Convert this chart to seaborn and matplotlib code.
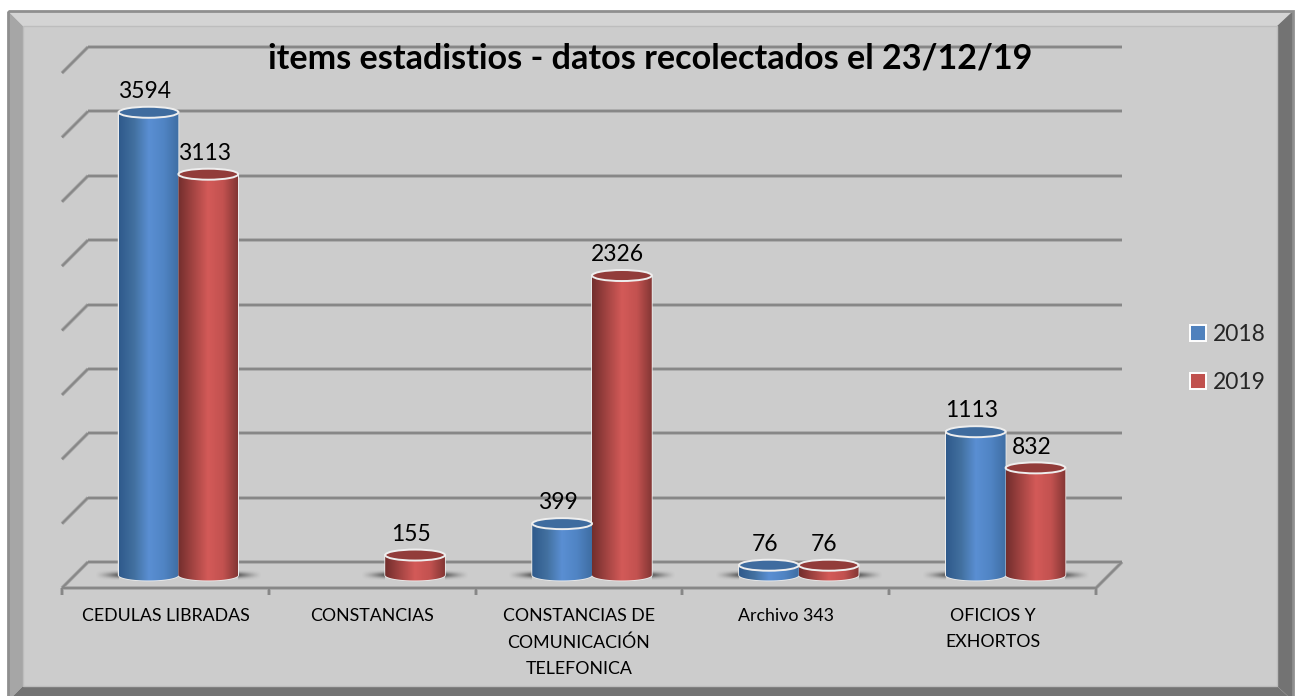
import numpy as np
import pandas as pd
import seaborn as sns
import matplotlib
matplotlib.use('Agg')
import matplotlib.pyplot as plt
from matplotlib.colors import LinearSegmentedColormap
from matplotlib.patches import Ellipse, Polygon, Patch
from matplotlib.path import Path
from matplotlib.transforms import ScaledTranslation

categories = ['CEDULAS LIBRADAS', 'CONSTANCIAS', 'CONSTANCIAS DE\nCOMUNICACIÓN\nTELEFONICA',
              'Archivo 343', 'OFICIOS Y\nEXHORTOS']
values_2018 = [3594, np.nan, 399, 76, 1113]
values_2019 = [3113, 155, 2326, 76, 832]
years = ['2018', '2019']
y_ticks = [0, 500, 1000, 1500, 2000, 2500, 3000, 3500, 4000]
title = 'items estadistios - datos recolectados el 23/12/19'

sns.set_style('white')
plt.rcParams['font.family'] = ['Lato', 'DejaVu Sans']

W, H = 1300, 696
fig = plt.figure(figsize=(W / 100, H / 100), dpi=100, facecolor='white')

# frame with bevel, in pixel coordinates
bg = fig.add_axes([0, 0, 1, 1])
bg.set_xlim(0, W)
bg.set_ylim(H, 0)
bg.axis('off')
ox0, oy0, ox1, oy1 = 8, 11, 1293, 701
ix0, iy0, ix1, iy1 = 23, 26, 1277, 686
bg.add_patch(Polygon([(ox0, oy0), (ox1, oy0), (ix1, iy0), (ix0, iy0)], fc='#d4d4d4', ec='none'))
bg.add_patch(Polygon([(ox0, oy0), (ix0, iy0), (ix0, iy1), (ox0, oy1)], fc='#a6a6a6', ec='none'))
bg.add_patch(Polygon([(ox1, oy0), (ix1, iy0), (ix1, iy1), (ox1, oy1)], fc='#737373', ec='none'))
bg.add_patch(Polygon([(ox0, oy1), (ix0, iy1), (ix1, iy1), (ox1, oy1)], fc='#737373', ec='none'))
bg.add_patch(Polygon([(ix0, iy0), (ix1, iy0), (ix1, iy1), (ix0, iy1)], fc='#cccccc', ec='#bdbdbd', lw=1))
bg.add_patch(Polygon([(ox0, oy0), (ox1, oy0), (ox1, oy1), (ox0, oy1)], fc='none', ec='#8f8f8f', lw=2))

# main axes: mid depth of the floor
ax_x0, ax_x1, ax_base, ax_top = 75, 1109, 575, 60
ax = fig.add_axes([ax_x0 / W, 1 - ax_base / H, (ax_x1 - ax_x0) / W, (ax_base - ax_top) / H])
ax.patch.set_alpha(0)

df = pd.DataFrame({
    'categoria': categories * 2,
    'valor': values_2018 + values_2019,
    'anio': [years[0]] * 5 + [years[1]] * 5,
})
sns.barplot(data=df, x='categoria', y='valor', hue='anio', hue_order=years,
            palette=['#4f81bd', '#c0504d'], width=0.578, gap=0, dodge=True,
            legend=False, zorder=3, ax=ax, linewidth=0)
ax.set_xlim(-0.5, 4.5)
ax.set_ylim(0, 4000)

px_x = 5 / (ax_x1 - ax_x0)     # data units in one pixel
px_y = 4000 / (ax_base - ax_top)
dx = 13 * px_x                 # half of the floor depth
dy = 13 * px_y

def line(xs, ys, z=1):
    ax.plot(xs, ys, color='#a6a6a6', lw=2.6, zorder=z, clip_on=False, solid_capstyle='butt')
    ax.plot(xs, ys, color='#878787', lw=1.4, zorder=z + 0.1, clip_on=False, solid_capstyle='butt')

left = -0.5
right = 4.5
for v in y_ticks:
    line([left + dx, right + dx], [v + dy, v + dy])
    line([left + dx, left - dx], [v + dy, v - dy])
line([right + dx, right - dx], [dy, -dy])
line([left - dx, right - dx], [-dy, -dy])
for i in range(len(categories) + 1):
    line([i - 0.5 - dx, i - 0.5 - dx], [-dy, -dy - 7 * px_y])

gradients = [
    LinearSegmentedColormap.from_list('azul', ['#2f5a8c', '#42709f', '#5a8fd3', '#5084c4', '#3f6ea3']),
    LinearSegmentedColormap.from_list('rojo', ['#722e2d', '#a34442', '#d35a58', '#c35250', '#833634']),
]
top_colors = ['#3f6c9f', '#923c3a']
ramp = np.linspace(0, 1, 256).reshape(1, -1)
ry = 5.5 * px_y
spans = {}

for container, cmap, top_color in zip(ax.containers, gradients, top_colors):
    for bar in container:
        h = bar.get_height()
        if np.isnan(h):
            continue
        x0, w = bar.get_x(), bar.get_width()
        xc = x0 + w / 2
        key = round(xc)
        if key in spans:
            spans[key] = (min(spans[key][0], x0), max(spans[key][1], x0 + w))
        else:
            spans[key] = (x0, x0 + w)

        # cylinder body with rounded bottom
        t = np.linspace(np.pi, 2 * np.pi, 60)
        pts = np.column_stack([xc + w / 2 * np.cos(t), ry * np.sin(t)])
        pts = np.vstack([pts, [x0 + w, h], [x0, h], pts[0]])
        outline = Polygon(pts, closed=True, fc='none', ec='#ececec', lw=1.2, zorder=3.2, clip_on=False)
        ax.add_patch(outline)
        im = ax.imshow(ramp, cmap=cmap, extent=(x0, x0 + w, -ry, h), aspect='auto', zorder=3.4)
        im.set_clip_box(fig.bbox)
        im.set_clip_path(Path(pts), ax.transData)

        # cylinder top
        ax.add_patch(Ellipse((xc, h), w, 2 * ry, fc=top_color, ec='#eeeeee', lw=1.4,
                             zorder=3.6, clip_on=False))
        ax.annotate(f'{int(h)}', (xc, h), xytext=(-3, 15), textcoords='offset points',
                    ha='center', va='center', fontsize=16.5, color='black', zorder=5)

# floor shadow on the outer sides of each group of bars, fades out sideways
side = 24 * px_x
prof = np.exp(-np.linspace(-1.7, 1.7, 24) ** 2)
ramp_in = np.linspace(0, 1, 48) ** 1.3
for x_from, x_to in spans.values():
    for fade, ext in [(ramp_in, (x_from - side, x_from)), (ramp_in[::-1], (x_to, x_to + side))]:
        rgba = np.zeros((24, 48, 4))
        rgba[..., 3] = 0.55 * np.outer(prof, fade)
        ax.imshow(rgba, extent=(ext[0], ext[1], -5 * px_y, 5 * px_y), aspect='auto',
                  zorder=2, clip_on=False, interpolation='bilinear')

ax.set_xlim(-0.5, 4.5)
ax.set_ylim(0, 4000)

ax.set_xlabel('')
ax.set_ylabel('')
ax.set_yticks([])
ax.set_xticks(range(len(categories)))
ax.set_xticklabels(categories, fontsize=12.8, color='black', linespacing=1.75)
ax.tick_params(axis='x', length=0, pad=24)
shift = ScaledTranslation(-13 / 100, 0, fig.dpi_scale_trans)
for lab in ax.get_xticklabels():
    lab.set_transform(lab.get_transform() + shift)
sns.despine(ax=ax, left=True, bottom=True)

ax.set_title(title, x=(650 - ax_x0) / (ax_x1 - ax_x0), y=0.987, fontsize=24.6,
             fontweight='bold', color='black', zorder=6, va='center')

handles = [Patch(fc='#4f81bd', ec='white', lw=1.4), Patch(fc='#c0504d', ec='white', lw=1.4)]
ax.legend(handles, years, loc='center left', bbox_to_anchor=(1190 / W, 1 - 358.5 / H),
          bbox_transform=fig.transFigure, frameon=False, fontsize=16.5, handlelength=0.68,
          handleheight=0.68, handletextpad=0.33, labelspacing=1.2, borderpad=0, borderaxespad=0)

fig.savefig('out.png', dpi=100, facecolor='white')
